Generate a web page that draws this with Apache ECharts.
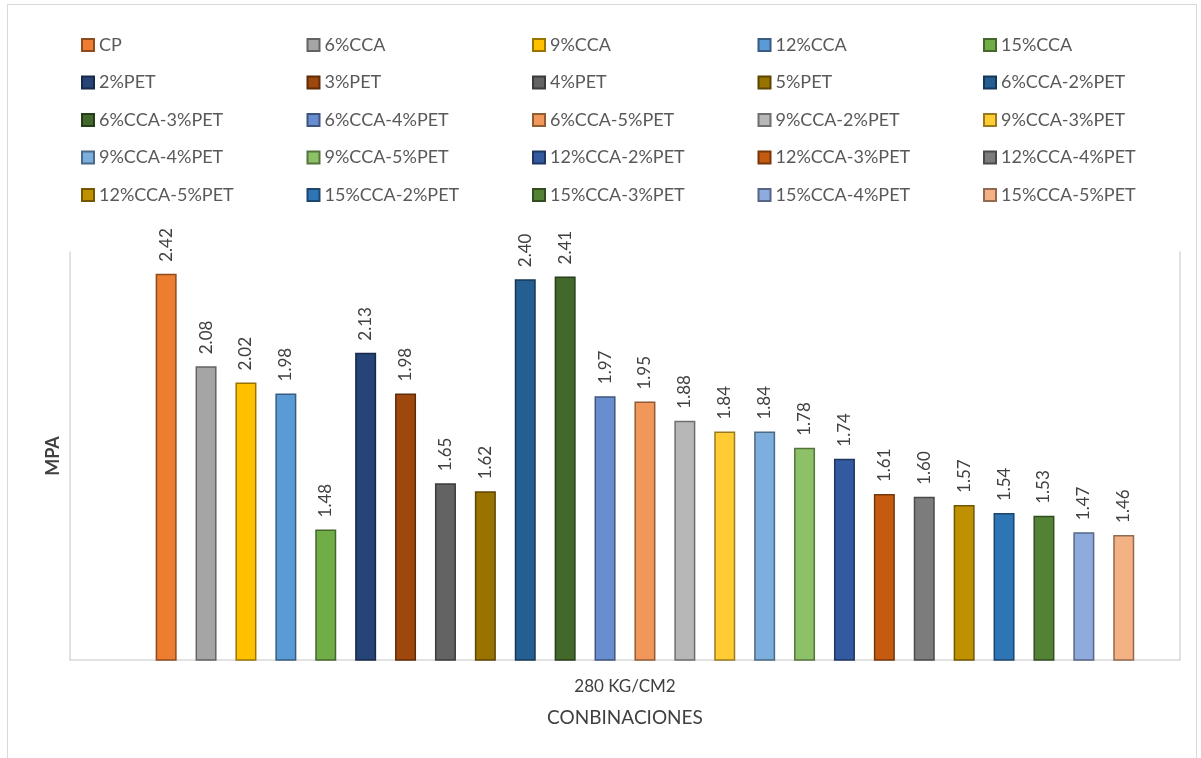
<!DOCTYPE html>
<html>
<head>
<meta charset="utf-8">
<script src="https://cdn.jsdelivr.net/npm/echarts@6/dist/echarts.min.js"></script>
<style>
  html, body { margin: 0; padding: 0; background: #fff; }
  #chart { position: absolute; left: 0; top: 0; width: 1201px; height: 758px; }
  #frame {
    position: absolute; left: 7px; top: 4px; width: 1188px; height: 770px;
    border: 1.5px solid #d9d9d9; border-bottom: none; pointer-events: none;
  }
</style>
</head>
<body>
<div id="chart"></div>
<div id="frame"></div>
<script>
// categoría del eje X
const categories = ['280 KG/CM2'];

// combinaciones (orden de la leyenda = orden de las barras)
const seriesNames = [
  'CP', '6%CCA', '9%CCA', '12%CCA', '15%CCA',
  '2%PET', '3%PET', '4%PET', '5%PET', '6%CCA-2%PET',
  '6%CCA-3%PET', '6%CCA-4%PET', '6%CCA-5%PET', '9%CCA-2%PET', '9%CCA-3%PET',
  '9%CCA-4%PET', '9%CCA-5%PET', '12%CCA-2%PET', '12%CCA-3%PET', '12%CCA-4%PET',
  '12%CCA-5%PET', '15%CCA-2%PET', '15%CCA-3%PET', '15%CCA-4%PET', '15%CCA-5%PET',
];

// resistencia en MPa
const seriesValues = [
  2.42, 2.08, 2.02, 1.98, 1.48,
  2.13, 1.98, 1.65, 1.62, 2.40,
  2.41, 1.97, 1.95, 1.88, 1.84,
  1.84, 1.78, 1.74, 1.61, 1.60,
  1.57, 1.54, 1.53, 1.47, 1.46,
];

const seriesColors = [
  '#ED7D31', '#A5A5A5', '#FFC000', '#5B9BD5', '#70AD47',
  '#264478', '#9E480E', '#636363', '#997300', '#255E91',
  '#43682B', '#698ED0', '#F1975A', '#B7B7B7', '#FFCD33',
  '#7CAFDD', '#8CC168', '#335AA1', '#C55A11', '#7C7C7C',
  '#BF9000', '#2E75B6', '#548235', '#8FAADC', '#F4B183',
];

// borde un poco más oscuro que el relleno
function darker(hex, f) {
  const n = parseInt(hex.slice(1), 16);
  const r = Math.round(((n >> 16) & 255) * f);
  const g = Math.round(((n >> 8) & 255) * f);
  const b = Math.round((n & 255) * f);
  return `rgb(${r},${g},${b})`;
}

const FONT = 'Lato, "Open Sans", sans-serif';
const axisLineStyle = { color: '#d9d9d9', width: 1.5 };

// Excel deja el primer hueco vacío (serie sin datos), por eso el grupo va corrido
const spacer = {
  name: '_vacio', type: 'bar', data: [null], barWidth: 21, barGap: '90%', silent: true,
};

const bars = seriesNames.map((name, i) => ({
  name,
  type: 'bar',
  data: [seriesValues[i]],
  barWidth: 21,
  barGap: '90%',
  itemStyle: {
    color: seriesColors[i],
    borderColor: darker(seriesColors[i], 0.6),
    borderWidth: 1.5,
  },
  label: {
    show: true,
    position: 'top',
    distance: 12,
    rotate: 90,
    align: 'left',
    verticalAlign: 'middle',
    fontFamily: FONT,
    fontSize: 17,
    color: '#404040',
    formatter: (p) => p.value.toFixed(2),
  },
}));

const chart = echarts.init(document.getElementById('chart'));
chart.setOption({
  animation: false,
  backgroundColor: '#fff',
  legend: {
    data: seriesNames,
    left: 81,
    top: 36,
    padding: 0,
    width: 1120,
    icon: 'rect',
    itemWidth: 12,
    itemHeight: 12,
    itemGap: 19.5,
    textStyle: {
      fontFamily: FONT, fontSize: 18, color: '#595959',
      width: 188, lineHeight: 17, overflow: 'none',
    },
  },
  grid: { left: 70, right: 21, top: 252, bottom: 98 },
  xAxis: {
    type: 'category',
    data: categories,
    axisLine: { lineStyle: axisLineStyle },
    axisTick: { show: false },
    axisLabel: { color: '#404040', fontFamily: FONT, fontSize: 17, margin: 18 },
    name: 'CONBINACIONES',
    nameLocation: 'middle',
    nameGap: 48,
    nameTextStyle: { color: '#404040', fontFamily: FONT, fontSize: 19 },
  },
  yAxis: [
    {
      type: 'value', min: 1, max: 2.5,
      axisLine: { show: true, lineStyle: axisLineStyle },
      axisTick: { show: false }, axisLabel: { show: false }, splitLine: { show: false },
      name: 'MPA',
      nameLocation: 'middle',
      nameRotate: 90,
      nameGap: 8,
      nameTextStyle: { color: '#404040', fontFamily: FONT, fontSize: 18, fontWeight: 'bold' },
    },
    {
      type: 'value', min: 1, max: 2.5, position: 'right',
      axisLine: { show: true, lineStyle: axisLineStyle },
      axisTick: { show: false }, axisLabel: { show: false }, splitLine: { show: false },
    },
  ],
  series: [spacer, ...bars],
});
</script>
</body>
</html>
